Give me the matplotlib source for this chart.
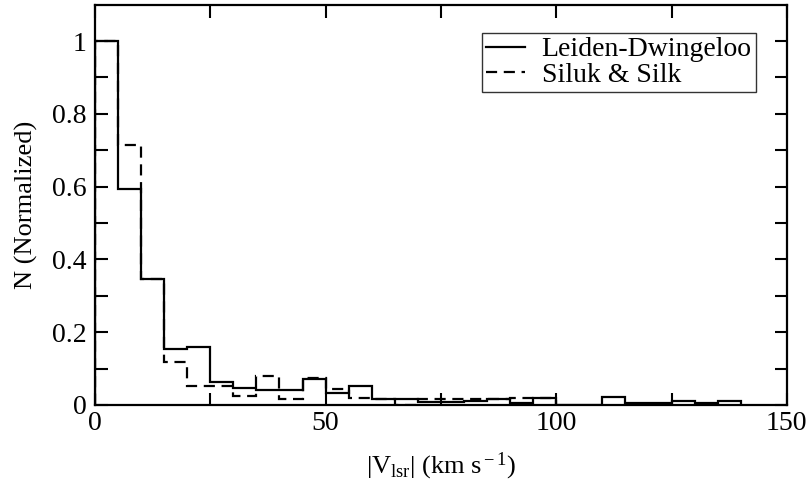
import numpy as np
import matplotlib
matplotlib.use("Agg")
import matplotlib.pyplot as plt

plt.rcParams['font.family'] = ['Liberation Serif', 'DejaVu Serif']
plt.rcParams['mathtext.fontset'] = 'custom'
plt.rcParams['mathtext.rm'] = 'Liberation Serif'
plt.rcParams['mathtext.it'] = 'Liberation Serif:italic'

# bin edges (km/s) and normalized counts
edges_ld = np.arange(0, 145, 5)
counts_ld = [1.0, 0.594, 0.347, 0.153, 0.159, 0.064, 0.046, 0.041, 0.041, 0.071,
             0.032, 0.053, 0.016, 0.016, 0.007, 0.007, 0.010, 0.016, 0.005, 0.018,
             0.0, 0.0, 0.023, 0.005, 0.005, 0.011, 0.005, 0.011]

edges_ss = np.arange(0, 105, 5)
counts_ss = [1.0, 0.715, 0.345, 0.119, 0.053, 0.053, 0.026, 0.079, 0.016, 0.073,
             0.043, 0.018, 0.016, 0.0, 0.016, 0.016, 0.016, 0.016, 0.018, 0.018]

fig = plt.figure(figsize=(8.12, 4.86), dpi=100)
ax = fig.add_axes([0.117, 0.1667, 0.852, 0.8236])

ax.stairs(counts_ld, edges_ld, color='black', linewidth=1.6, label='Leiden-Dwingeloo')
ax.stairs(counts_ss, edges_ss, color='black', linewidth=1.6, linestyle=(0, (5, 3)),
          label='Siluk & Silk')

ax.set_xlim(0, 150)
ax.set_ylim(0, 1.1)
ax.set_xticks([0, 50, 100, 150])
ax.set_xticks([25, 75, 125], minor=True)
ax.set_yticks([0, 0.2, 0.4, 0.6, 0.8, 1.0])
ax.set_yticklabels(['0', '0.2', '0.4', '0.6', '0.8', '1'])
ax.set_yticks(np.arange(0.1, 1.1, 0.2), minor=True)
ax.tick_params(which='both', direction='in', top=True, right=True, length=9, width=1.5,
               labelsize=20)
ax.tick_params(axis='x', pad=4)
ax.tick_params(axis='y', pad=6)
for s in ax.spines.values():
    s.set_linewidth(1.6)

ax.set_xlabel(r'|V$_{\rm lsr}$| (km s$^{\rm -1}$)', fontsize=19, labelpad=11)
ax.set_ylabel('N (Normalized)', fontsize=19, labelpad=10)

leg = ax.legend(loc='upper right', bbox_to_anchor=(0.955, 0.93), fontsize=20, frameon=True,
                fancybox=False, edgecolor='black', handlelength=1.4, handletextpad=0.6,
                borderpad=0.15, labelspacing=0.0, borderaxespad=0.0)
leg.get_frame().set_linewidth(1.0)

fig.savefig('out.png', dpi=100)
